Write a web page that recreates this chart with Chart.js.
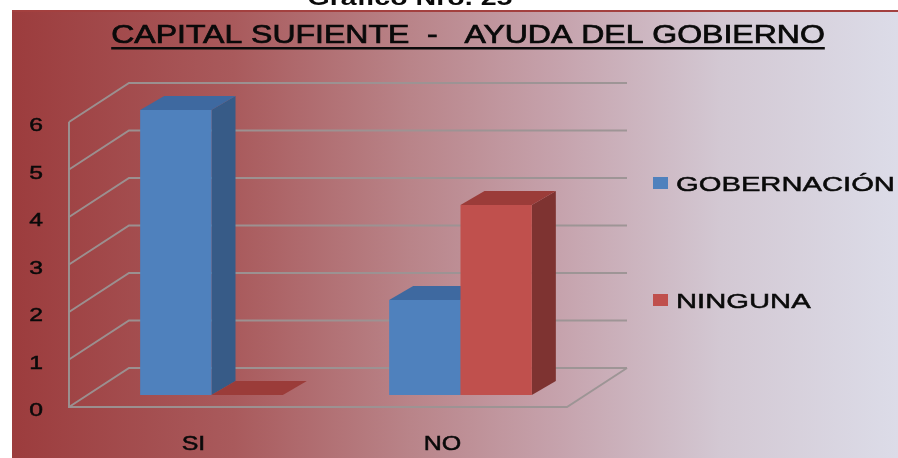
<!DOCTYPE html>
<html>
<head>
<meta charset="utf-8">
<script src="https://cdn.jsdelivr.net/npm/chart.js@4/dist/chart.umd.min.js"></script>
<style>
  html, body { margin: 0; padding: 0; background: #fff; }
  #wrap { width: 898px; height: 458px; position: relative; }
</style>
</head>
<body>
<div id="wrap"><canvas id="c" width="898" height="458"></canvas></div>
<script>
// Data
const categories = ['SI', 'NO'];
const gobernacion = [6, 2];
const ninguna = [0, 4];
const yTicks = [0, 1, 2, 3, 4, 5, 6];
const seriesNames = ['GOBERNACIÓN', 'NINGUNA'];
const chartTitle = 'CAPITAL SUFIENTE  -   AYUDA DEL GOBIERNO';
const figureCaption = 'Gráfico Nro. 25';

// 3D projection offsets relative to the bar plane
const FRONT = { dx: -18, dy: 12 };
const BACK = { dx: 42, dy: -27 };
const DEPTH = { dx: 24, dy: -14 };

const faceColors = [
  { front: '#4f81bd', side: '#375b87', top: '#3e69a0' },
  { front: '#c0504d', side: '#7e3331', top: '#9b3c39' }
];

const FONT = '"Liberation Sans", Arial, sans-serif';

// Horizontally widened text with a light outline for a heavier stroke
function wideText(ctx, text, x, y, size, sx, align, weight, outline) {
  ctx.save();
  ctx.translate(x, y);
  ctx.scale(sx, 1);
  ctx.font = (weight || 'normal') + ' ' + size + 'px ' + FONT;
  ctx.textAlign = align || 'left';
  ctx.textBaseline = 'alphabetic';
  ctx.fillStyle = '#0a0a0a';
  ctx.fillText(text, 0, 0);
  if (outline) {
    ctx.strokeStyle = '#0a0a0a';
    ctx.lineWidth = outline;
    ctx.strokeText(text, 0, 0);
  }
  ctx.restore();
}

function poly(ctx, pts, fill) {
  ctx.beginPath();
  ctx.moveTo(pts[0][0], pts[0][1]);
  for (let i = 1; i < pts.length; i++) ctx.lineTo(pts[i][0], pts[i][1]);
  ctx.closePath();
  ctx.fillStyle = fill;
  ctx.fill();
}

const scene3d = {
  id: 'scene3d',
  beforeDraw(chart) {
    const ctx = chart.ctx;
    const W = chart.width, H = chart.height;
    ctx.save();
    ctx.fillStyle = '#ffffff';
    ctx.fillRect(0, 0, W, H);
    // caption above the panel (its top is cut by the page edge)
    wideText(ctx, figureCaption, 410, 5, 22, 1.3, 'center', 'bold');
    // panel gradient
    const g = ctx.createLinearGradient(12, 0, W, 0);
    g.addColorStop(0, '#9c3c3d');
    g.addColorStop(0.25, '#a95a5c');
    g.addColorStop(0.45, '#b98489');
    g.addColorStop(0.62, '#c6a3ad');
    g.addColorStop(0.8, '#d3c8d3');
    g.addColorStop(1, '#dcdce8');
    ctx.fillStyle = g;
    ctx.fillRect(12, 10, W - 12, H - 10);
    ctx.fillStyle = '#a3403f';
    ctx.fillRect(12, 10, W - 12, 2);

    // title with underline
    ctx.save();
    ctx.font = 'normal 25px ' + FONT;
    const tw = ctx.measureText(chartTitle).width * 1.28;
    ctx.restore();
    const tx = 468;
    wideText(ctx, chartTitle, tx, 43, 25, 1.28, 'center', 'normal', 0.7);
    ctx.fillStyle = '#0a0a0a';
    ctx.fillRect(tx - tw / 2, 47, tw, 2.5);
    ctx.restore();
  },
  beforeDatasetsDraw(chart) {
    const ctx = chart.ctx;
    const ys = chart.scales.y;
    const area = chart.chartArea;
    const L = area.left, R = area.right;
    ctx.save();
    ctx.strokeStyle = 'rgba(155,148,147,0.95)';
    ctx.lineWidth = 2;
    // walls and gridlines
    yTicks.forEach(v => {
      const yb = ys.getPixelForValue(v);
      ctx.beginPath();
      ctx.moveTo(L + FRONT.dx, yb + FRONT.dy);
      ctx.lineTo(L + BACK.dx, yb + BACK.dy);
      ctx.lineTo(R + BACK.dx, yb + BACK.dy);
      ctx.stroke();
    });
    const y0 = ys.getPixelForValue(0);
    const yTop = ys.getPixelForValue(yTicks[yTicks.length - 1]);
    ctx.beginPath();
    ctx.moveTo(L + FRONT.dx, yTop + FRONT.dy);
    ctx.lineTo(L + FRONT.dx, y0 + FRONT.dy);
    ctx.lineTo(R + FRONT.dx, y0 + FRONT.dy);
    ctx.lineTo(R + BACK.dx, y0 + BACK.dy);
    ctx.stroke();

    // value labels on the front axis
    yTicks.forEach(v => {
      const yb = ys.getPixelForValue(v) + FRONT.dy;
      wideText(ctx, String(v), 36, yb + 9, 19, 1.3, 'center', 'normal', 0.5);
    });
    // category labels on the front edge
    const xs = chart.scales.x;
    categories.forEach((c, j) => {
      const x = xs.getPixelForValue(j) + FRONT.dx;
      wideText(ctx, c, x, 450, 20, 1.25, 'center', 'normal', 0.5);
    });

    // 3D bars, left to right so the nearer faces overlap correctly
    categories.forEach((c, j) => {
      chart.data.datasets.forEach((ds, i) => {
        const el = chart.getDatasetMeta(i).data[j];
        const col = faceColors[i];
        const x0 = el.x - el.width / 2, x1 = el.x + el.width / 2;
        const top = el.y, base = el.base;
        poly(ctx, [[x1, top], [x1 + DEPTH.dx, top + DEPTH.dy], [x1 + DEPTH.dx, base + DEPTH.dy], [x1, base]], col.side);
        poly(ctx, [[x0, top], [x0 + DEPTH.dx, top + DEPTH.dy], [x1 + DEPTH.dx, top + DEPTH.dy], [x1, top]], col.top);
        if (base - top > 0.5) {
          ctx.fillStyle = col.front;
          ctx.fillRect(x0, top, x1 - x0, base - top);
        }
      });
    });

    // legend
    const legendRows = [183, 300];
    chart.data.datasets.forEach((ds, i) => {
      const cy = legendRows[i];
      ctx.fillStyle = faceColors[i].front;
      ctx.fillRect(653, cy - 6, 15, 12);
      wideText(ctx, ds.label, 676, cy + 7.5, 21, 1.39, 'left', 'normal', 0.5);
    });
    ctx.restore();
    return false;
  }
};

new Chart(document.getElementById('c'), {
  type: 'bar',
  data: {
    labels: categories,
    datasets: [
      { label: seriesNames[0], data: gobernacion, backgroundColor: faceColors[0].front },
      { label: seriesNames[1], data: ninguna, backgroundColor: faceColors[1].front }
    ]
  },
  options: {
    responsive: false,
    animation: false,
    devicePixelRatio: 1,
    layout: { padding: { left: 87, right: 313, top: 110, bottom: 63 } },
    datasets: { bar: { categoryPercentage: 0.573, barPercentage: 1 } },
    scales: {
      x: { display: false },
      y: { display: false, min: 0, max: 6 }
    },
    plugins: {
      legend: { display: false },
      title: { display: false },
      tooltip: { enabled: false }
    }
  },
  plugins: [scene3d]
});
</script>
</body>
</html>
